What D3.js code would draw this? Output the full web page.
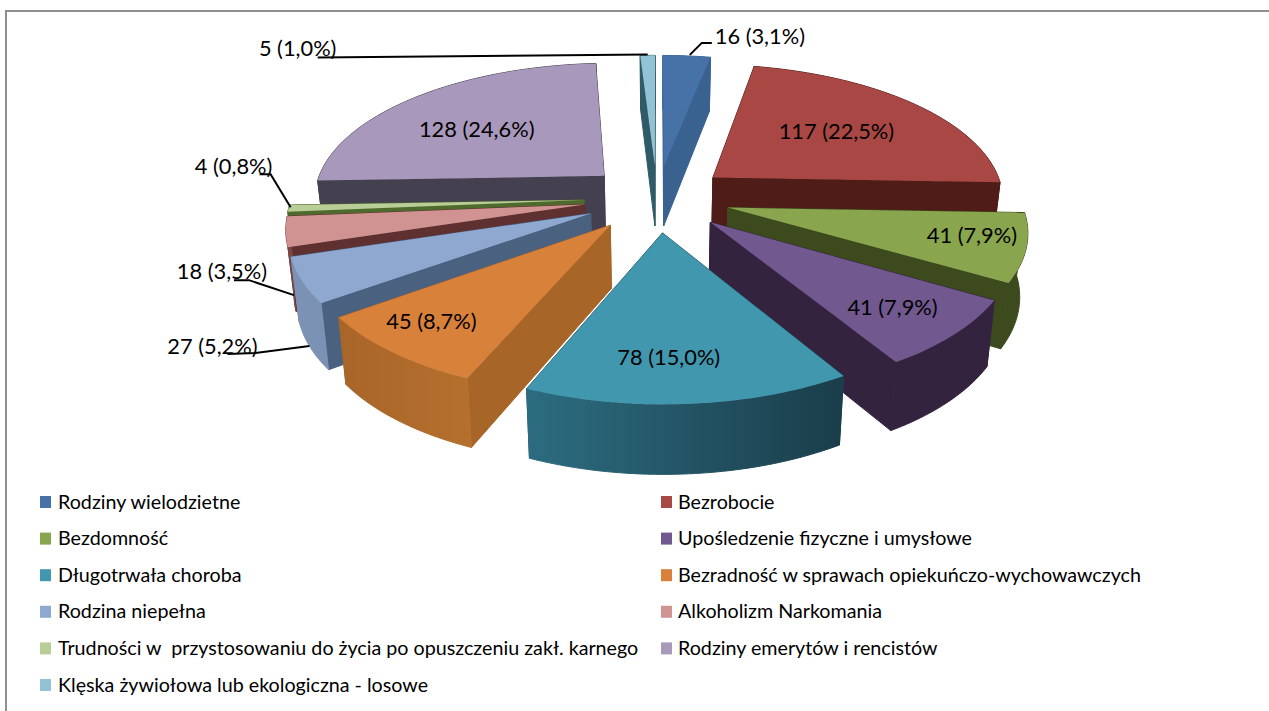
<!DOCTYPE html>
<html><head><meta charset="utf-8">
<style>html,body{margin:0;padding:0;background:#fff}svg{display:block}text{font-family:Lato,"Open Sans",sans-serif;fill:#000;white-space:pre}</style>
<script src="https://cdn.jsdelivr.net/npm/d3@7"></script>
</head><body><svg id="c" width="1269" height="711"></svg>
<script>
// DATA
const categories = ["Rodziny wielodzietne","Bezrobocie","Bezdomność","Upośledzenie fizyczne i umysłowe","Długotrwała choroba","Bezradność w sprawach opiekuńczo-wychowawczych","Rodzina niepełna","Alkoholizm Narkomania","Trudności w  przystosowaniu do życia po opuszczeniu zakł. karnego","Rodziny emerytów i rencistów","Klęska żywiołowa lub ekologiczna - losowe"];
const counts = [16,117,41,41,78,45,27,18,4,128,5];
// STYLE
const topColors  = ["#4672a8","#a94744","#89a54e","#71588f","#4197ae","#d8813a","#8fa8d0","#d19392","#b9cd96","#a898bc","#92c3d4"];
const wallColors = ["#3a6291","#4f1c17","#3d4a1e","#33233f","#1f4f60","#a86528","#4b6180","#5f3030","#4e6a2d","#45404f","#2f5a68"];
const rimFrom    = ["#3a6291","#4f1c17","#3d4a1e","#33233f","#2c6c80","#b5702e","#7c92b5","#7a4645","#4e6a2d","#45404f","#2f5a68"];
const rimTo      = ["#3a6291","#4f1c17","#3d4a1e","#33233f","#1a3d4a","#a86528","#7c92b5","#7a4645","#4e6a2d","#45404f","#2f5a68"];
// LAYOUT
const view = {cx:657, cy:198, ax:292, az:135, persp:0.1463, explode:0.25, wallBase:62, wallSlope:6.4, bottomX:0.978};
const insideLabels = {1:[.62,-5,0],2:[.85,-8,-7],3:[.8,-9,-3],4:[.75,-13,1],5:[.8,-9,-4],9:[.62,-7,3]};
// leader: base on 'top' or 'bottom' rim, then relative bends; label anchor relative to rim
const leaders = {
  0:{base:"top",pts:[[3,-1],[15,-13],[25,-13]],text:[28,-20,"start"]},
  10:{base:"top",pts:[[0,-1],[-330,2]],text:[-350,-8,"middle"]},
  8:{base:"top",pts:[[2,-1],[-18,-34],[-29,-34]],text:[-55,-43,"middle"]},
  7:{base:"bottom",pts:[[0,0],[-45,-15],[-60,-15]],text:[-72,-25,"middle"]},
  6:{base:"bottom",pts:[[0,0],[-54,7],[-82,8]],text:[-97,-1,"middle"]}
};
const svg = d3.select("#c");
const defs = svg.append("defs");
const total = d3.sum(counts);
const pct = v => (v/total*100).toFixed(1).replace(".",",");
const arcs = d3.pie().sort(null).value(d=>d)(counts).map((a,i)=>({...a,i,mid:(a.startAngle+a.endAngle)/2}));

function project(s,theta,f){
  const X = view.explode*Math.sin(s.mid)+f*Math.sin(theta);
  const Z = view.explode*Math.cos(s.mid)+f*Math.cos(theta);
  const den = 1+view.persp*Z;
  const x = view.cx+view.ax*X/den, y = view.cy-view.az*Z/den;
  return {x,y,Z,bx:view.cx+(x-view.cx)*view.bottomX,by:y+view.wallBase-view.wallSlope*Z};
}
const line = d3.line().x(d=>d[0]).y(d=>d[1]);
const closed = p => line(p)+"Z";
function rimPts(s){
  const n = Math.max(4,Math.ceil((s.endAngle-s.startAngle)/0.02));
  return d3.range(n+1).map(k=>project(s,s.startAngle+(s.endAngle-s.startAngle)*k/n,1));
}
// frame
svg.append("path").attr("d",line([[6,711],[6,11],[1269,11]])).attr("fill","none").attr("stroke","#8f8f8f").attr("stroke-width",2);

const gPie = svg.append("g");
arcs.slice().sort((a,b)=>Math.cos(b.mid)-Math.cos(a.mid)).forEach(s=>{
  const g = gPie.append("g");
  const apex = project(s,0,0), rim = rimPts(s);
  const gid = "rim"+s.i;
  const gr = defs.append("linearGradient").attr("id",gid);
  gr.append("stop").attr("offset","0%").attr("stop-color",rimTo[s.i]);
  gr.append("stop").attr("offset","100%").attr("stop-color",rimFrom[s.i]);
  if(s.mid>Math.PI/2&&s.mid<Math.PI*1.1){gr.attr("x1","1").attr("x2","0");}
  const radial = e=>({Z:(apex.Z+e.Z)/2,d:closed([[apex.x,apex.y],[e.x,e.y],[e.bx,e.by],[apex.bx,apex.by]]),fill:wallColors[s.i]});
  const faces = [radial(rim[0]),radial(rim[rim.length-1]),
    {Z:d3.mean(rim,p=>p.Z),d:closed(rim.map(p=>[p.x,p.y]).concat(rim.slice().reverse().map(p=>[p.bx,p.by]))),fill:`url(#${gid})`}];
  faces.sort((a,b)=>b.Z-a.Z).forEach(f=>g.append("path").attr("d",f.d).attr("fill",f.fill).attr("stroke",f.fill).attr("stroke-width",1).attr("stroke-linejoin","round"));
  g.append("path").attr("d",closed([[apex.x,apex.y]].concat(rim.map(p=>[p.x,p.y])))).attr("fill",topColors[s.i]);
});

// labels
const labelText = i => `${counts[i]} (${pct(counts[i])}%)`;
const gLab = svg.append("g").attr("font-size",21.8);
Object.entries(insideLabels).forEach(([i,[f,dx,dy]])=>{
  const p = project(arcs[i],arcs[i].mid,f);
  gLab.append("text").attr("x",p.x+dx).attr("y",p.y+dy).attr("text-anchor","middle").attr("dominant-baseline","central").text(labelText(+i));
});
Object.entries(leaders).forEach(([i,l])=>{
  const p = project(arcs[i],arcs[i].mid,1);
  const o = l.base==="top"?[p.x,p.y]:[p.bx,p.by];
  gLab.append("path").attr("d",line(l.pts.map(d=>[o[0]+d[0],o[1]+d[1]]))).attr("fill","none").attr("stroke","#000").attr("stroke-width",2);
  gLab.append("text").attr("x",o[0]+l.text[0]).attr("y",o[1]+l.text[1]).attr("text-anchor",l.text[2]).attr("dominant-baseline","central").text(labelText(+i));
});

// legend
const rows = d3.scalePoint().domain(d3.range(6)).range([502,685]);
const cols = d3.scalePoint().domain([0,1]).range([40,661]);
const gLeg = svg.append("g").attr("font-size",19.7);
categories.forEach((c,i)=>{
  const col = i%2,row = Math.floor(i/2);
  gLeg.append("rect").attr("x",cols(col)).attr("y",rows(row)-6).attr("width",11).attr("height",12).attr("fill",topColors[i]);
  gLeg.append("text").attr("x",cols(col)+(col?17:18)).attr("y",rows(row)-1).attr("dominant-baseline","central").text(c);
});
</script></body></html>
